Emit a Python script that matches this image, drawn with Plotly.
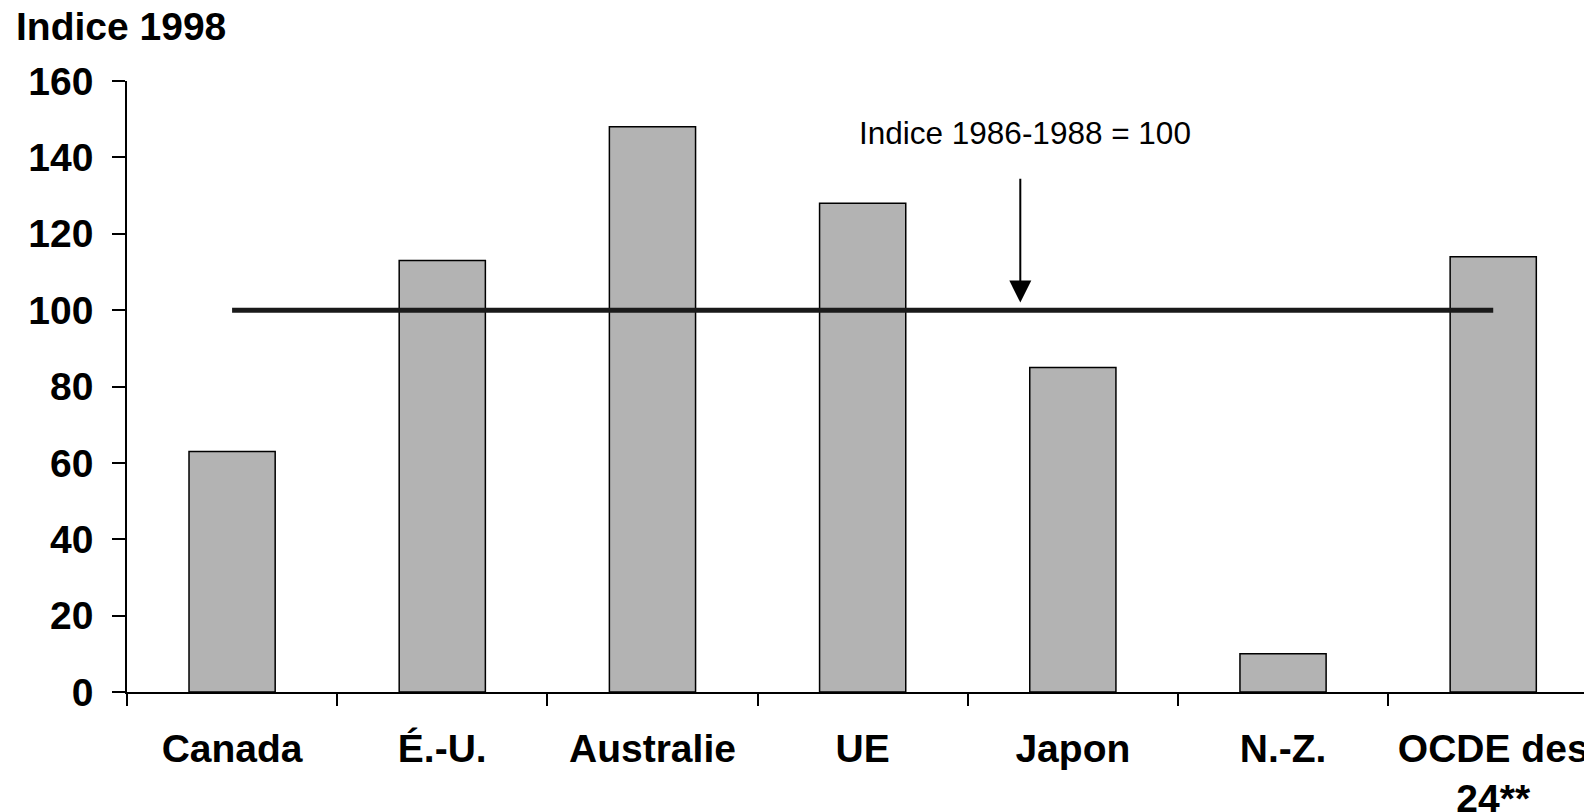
import plotly.graph_objects as go

categories = ["Canada", "É.-U.", "Australie", "UE", "Japon", "N.-Z.", "OCDE des<br>24**"]
values = [63, 113, 148, 128, 85, 10, 114]
reference_level = 100
y_ticks = [0, 20, 40, 60, 80, 100, 120, 140, 160]

FONT = "Liberation Sans, Arial, sans-serif"

fig = go.Figure()
fig.add_trace(go.Bar(
    x=categories, y=values,
    marker=dict(color="#b3b3b3", line=dict(color="#000000", width=1.5)),
    width=0.41, showlegend=False, hoverinfo="skip",
))
fig.add_trace(go.Scatter(
    x=[categories[0], categories[-1]], y=[reference_level, reference_level],
    mode="lines", line=dict(color="#1a1a1a", width=5),
    showlegend=False, hoverinfo="skip",
))

fig.update_layout(
    width=1592, height=812,
    margin=dict(l=119, r=0, t=73, b=128, autoexpand=False),
    paper_bgcolor="white", plot_bgcolor="white",
    font=dict(family=FONT, color="black"),
)
fig.update_xaxes(
    type="category", range=[-0.5, 6.508], automargin=False,
    tickson="boundaries", ticks="outside", ticklen=12, tickwidth=1.5, tickcolor="black",
    showline=True, linecolor="black", linewidth=1.5,
    showgrid=False, zeroline=False,
    tickfont=dict(family=FONT, size=39, weight="bold", color="black"),
    ticklabelstandoff=21,
)
fig.update_yaxes(
    range=[0, 160], tickvals=y_ticks, automargin=False,
    ticks="outside", ticklen=13, tickwidth=1.5, tickcolor="black",
    showline=True, linecolor="black", linewidth=1.5,
    showgrid=False, zeroline=False,
    tickfont=dict(family=FONT, size=39, weight="bold", color="black"),
    ticklabelstandoff=11,
)

fig.add_annotation(
    text="Indice 1998", xref="paper", yref="paper",
    x=-0.0767, y=1.090, xanchor="left", yanchor="middle", showarrow=False,
    font=dict(family=FONT, size=39, weight="bold", color="black"),
)
fig.add_annotation(
    text="Indice 1986-1988 = 100", xref="x", yref="y",
    x=3.772, y=146.4, xanchor="center", yanchor="middle", showarrow=False,
    font=dict(family=FONT, size=31.5, color="black"),
)
fig.add_annotation(
    text="", xref="x", yref="y", axref="x", ayref="y",
    x=3.75, y=102, ax=3.75, ay=134.8,
    showarrow=True, arrowhead=2, arrowsize=2.2, arrowwidth=2, arrowcolor="black",
)

fig.write_html("out.html")
